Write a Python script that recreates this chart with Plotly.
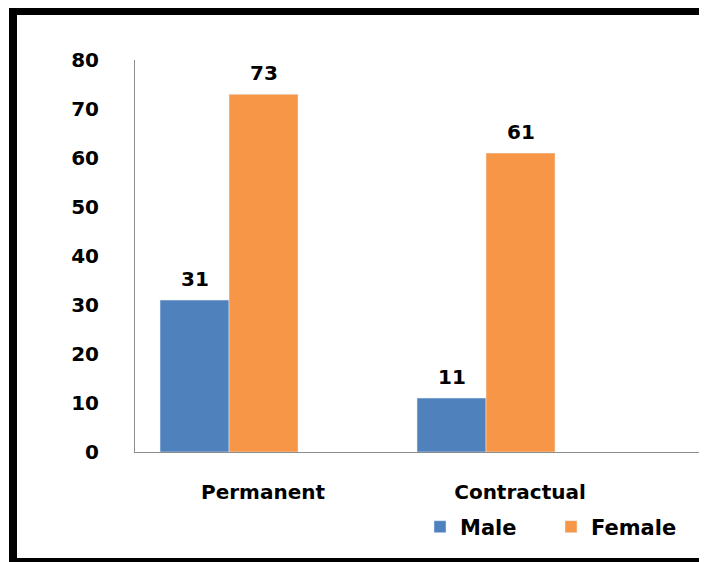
import plotly.graph_objects as go

categories = ["Permanent", "Contractual"]
male = [31, 11]
female = [73, 61]
y_ticks = [0, 10, 20, 30, 40, 50, 60, 70, 80]

OFF = 8  # default page body margin
W, H = 707 - OFF, 562 - OFF
BLUE = "#4F81BD"
ORANGE = "#F79646"
FONT = "DejaVu Sans"


def fx(px):
    return (px - OFF) / W


def fy(py):
    return 1 - (py - OFF) / H


fig = go.Figure()
fig.add_trace(go.Bar(name="Male", x=categories, y=male, marker_color=BLUE))
fig.add_trace(go.Bar(name="Female", x=categories, y=female, marker_color=ORANGE))

annotations = []
for series, shift in ((male, -34.5), (female, 34.5)):
    for c, v in zip(categories, series):
        annotations.append(dict(
            x=c, y=v, xref="x", yref="y", text=str(v), showarrow=False,
            xshift=shift, yshift=7, yanchor="bottom",
            font=dict(family=FONT, size=20, color="black", weight="bold"),
        ))

shapes = []
for x0, y0, x1, y1 in ((9, 7, 707, 15), (9, 7, 17, 562), (703, 7, 707, 562), (9, 558, 707, 562)):
    shapes.append(dict(type="rect", xref="paper", yref="paper",
                       x0=fx(x0), x1=fx(x1), y0=fy(y1), y1=fy(y0),
                       fillcolor="black", line=dict(width=0), layer="above"))

fig.update_layout(
    width=W, height=H,
    margin=dict(l=0, r=0, t=0, b=0, autoexpand=False),
    paper_bgcolor="white", plot_bgcolor="white",
    barmode="group", bargap=0.463, bargroupgap=0,
    font=dict(family=FONT, color="black"),
    xaxis=dict(
        domain=[fx(135), fx(707)], range=[-0.366, 1.86],
        showline=True, linecolor="#8C8C8C", linewidth=1,
        ticks="", showgrid=False, zeroline=False,
        tickfont=dict(family=FONT, size=20, color="black", weight="bold"),
        ticklabelshift=34, ticklabelstandoff=22,
    ),
    yaxis=dict(
        domain=[fy(452), fy(60)], range=[0, 80],
        tickvals=y_ticks, ticktext=[str(t) for t in y_ticks],
        showline=True, linecolor="#8C8C8C", linewidth=1,
        ticks="", showgrid=False, zeroline=False,
        tickfont=dict(family=FONT, size=20, color="black", weight="bold"),
        ticklabelstandoff=31,
    ),
    legend=dict(
        orientation="h", x=fx(420), y=fy(527), xanchor="left", yanchor="middle",
        font=dict(family=FONT, size=21, color="black", weight="bold"),
        entrywidth=86, itemwidth=30, bgcolor="rgba(0,0,0,0)",
    ),
    annotations=annotations,
    shapes=shapes,
    showlegend=True,
)

fig.write_html("out.html")
